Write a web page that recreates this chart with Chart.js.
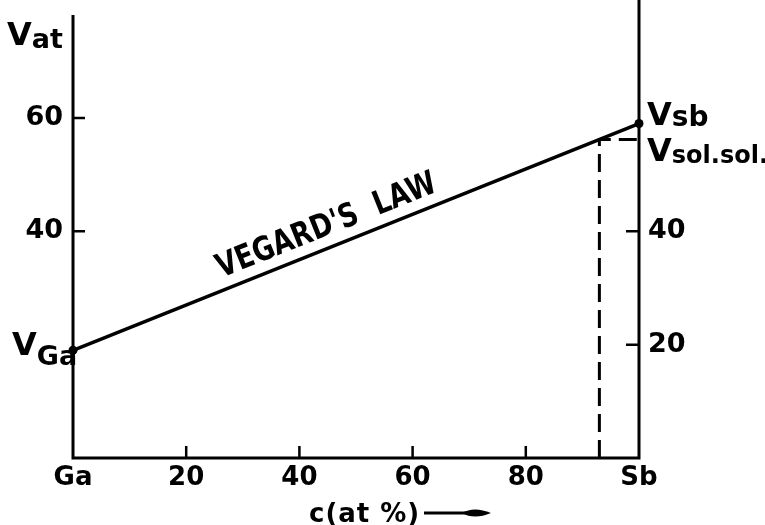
<!DOCTYPE html>
<html>
<head>
<meta charset="utf-8">
<script src="https://cdn.jsdelivr.net/npm/chart.js@4.4.1/dist/chart.umd.min.js"></script>
<style>
  html, body { margin: 0; padding: 0; background: #fff; }
  canvas { display: block; }
</style>
</head>
<body>
<canvas id="vegard" width="765" height="525"></canvas>
<script>
// composition in at % Sb (0 = Ga, 100 = Sb)
const compPct = [0, 100];
// atomic volume along Vegard's law
const vatLine = [19, 59];
// solid solution reading
const solComp = [93];
const solVat = [56.2];

// tick labels
const xTicks = [0, 20, 40, 60, 80, 100];
const xTickText = ["Ga", "20", "40", "60", "80", "Sb"];
const leftTicks = [40, 60];
const rightTicks = [20, 40];

const FONT = '"DejaVu Sans", sans-serif';

function subLabel(ctx, x, y, main, sub, mainSize, subSize, subDrop) {
    ctx.font = "bold " + mainSize + "px " + FONT;
    ctx.fillText(main, x, y);
    let w = ctx.measureText(main).width;
    ctx.font = "bold " + subSize + "px " + FONT;
    ctx.fillText(sub, x + w, y + subDrop);
}

const drawExtras = {
    id: "drawExtras",
    beforeDatasetsDraw(chart) {
        const ctx = chart.ctx;
        const x = chart.scales.x, y = chart.scales.y;
        const x0 = x.getPixelForValue(0), x1 = x.getPixelForValue(100);
        const yb = y.getPixelForValue(0);
        ctx.save();
        ctx.strokeStyle = "#000";
        ctx.lineWidth = 3;
        // axes frame
        ctx.beginPath();
        ctx.moveTo(x0, 15);
        ctx.lineTo(x0, yb);
        ctx.lineTo(x1, yb);
        ctx.lineTo(x1, 0);
        ctx.stroke();
        // inward ticks
        ctx.lineWidth = 2.5;
        ctx.beginPath();
        leftTicks.forEach((v) => {
            let p = y.getPixelForValue(v);
            ctx.moveTo(x0, p); ctx.lineTo(x0 + 12, p);
        });
        rightTicks.forEach((v) => {
            let p = y.getPixelForValue(v);
            ctx.moveTo(x1, p); ctx.lineTo(x1 - 13, p);
        });
        xTicks.slice(1, -1).forEach((v) => {
            let p = x.getPixelForValue(v);
            ctx.moveTo(p, yb); ctx.lineTo(p, yb - 12);
        });
        ctx.stroke();
        ctx.restore();
    },
    afterDatasetsDraw(chart) {
        const ctx = chart.ctx;
        const x = chart.scales.x, y = chart.scales.y;
        ctx.save();
        ctx.fillStyle = "#000";
        ctx.textBaseline = "alphabetic";
        ctx.textAlign = "left";

        // axis title
        subLabel(ctx, 7, 45, "V", "at", 32, 27, 3);

        // end point labels
        let pGaY = y.getPixelForValue(vatLine[0]);
        subLabel(ctx, 12, pGaY + 5, "V", "Ga", 32, 27, 10);
        let pSbY = y.getPixelForValue(vatLine[1]);
        let xr = x.getPixelForValue(100) + 8;
        subLabel(ctx, xr, pSbY + 1, "V", "sb", 32, 28, 1);
        let pSolY = y.getPixelForValue(solVat[0]);
        subLabel(ctx, xr, pSolY + 22, "V", "sol.sol.", 32, 24, 2);

        // rotated VEGARD'S LAW along the line
        let ax = x.getPixelForValue(compPct[0]), ay = y.getPixelForValue(vatLine[0]);
        let bx = x.getPixelForValue(compPct[1]), by = y.getPixelForValue(vatLine[1]);
        let ang = Math.atan2(by - ay, bx - ax);
        let t = 0.27;
        let sx = ax + (bx - ax) * t, sy = ay + (by - ay) * t;
        ctx.translate(sx, sy);
        ctx.rotate(ang);
        ctx.font = "bold 33px " + FONT;
        ctx.fillText("VEGARD'S  LAW", 0, -12, 234);
        ctx.setTransform(1, 0, 0, 1, 0, 0);

        // x axis title with arrow
        ctx.font = "bold 26px " + FONT;
        ctx.letterSpacing = "1px";
        ctx.fillText("c(at %)", 309, 522);
        ctx.letterSpacing = "0px";
        ctx.strokeStyle = "#000";
        ctx.lineWidth = 3;
        ctx.beginPath();
        ctx.moveTo(424, 513);
        ctx.lineTo(470, 513);
        ctx.stroke();
        ctx.beginPath();
        ctx.moveTo(462, 513);
        ctx.quadraticCurveTo(474, 506, 491, 513);
        ctx.quadraticCurveTo(474, 520, 462, 513);
        ctx.fill();
        ctx.restore();
    }
};

function noPad(scale) {
    scale.paddingTop = 0;
    scale.paddingBottom = 0;
    scale.paddingLeft = 0;
    scale.paddingRight = 0;
}

const tickFont = { family: FONT, size: 26, weight: "bold" };

new Chart(document.getElementById("vegard"), {
    type: "scatter",
    data: {
        datasets: [
            {
                label: "Vegard's law",
                data: compPct.map((c, i) => ({ x: c, y: vatLine[i] })),
                showLine: true,
                borderColor: "#000",
                borderWidth: 3.5,
                pointRadius: 4.5,
                pointBackgroundColor: "#000",
                pointBorderWidth: 0,
                clip: false,
            },
            {
                label: "solid solution",
                data: [
                    { x: solComp[0], y: 0 },
                    { x: solComp[0], y: solVat[0] },
                    { x: 100, y: solVat[0] },
                ],
                showLine: true,
                borderColor: "#000",
                borderWidth: 3,
                borderDash: [18, 8],
                pointRadius: 0,
                clip: false,
            },
        ],
    },
    options: {
        responsive: false,
        animation: false,
        devicePixelRatio: 1,
        layout: { padding: { top: 2, left: 0, right: 0, bottom: 0 } },
        plugins: {
            legend: { display: false },
            tooltip: { enabled: false },
        },
        scales: {
            x: {
                type: "linear",
                position: "bottom",
                min: 0,
                max: 100,
                grid: { display: false, drawTicks: false },
                border: { display: false },
                afterBuildTicks: (scale) => { scale.ticks = xTicks.map((v) => ({ value: v })); },
                afterFit: (scale) => { scale.height = 67; noPad(scale); },
                ticks: {
                    autoSkip: false,
                    maxRotation: 0,
                    padding: 5,
                    color: "#000",
                    font: tickFont,
                    callback: (v) => xTickText[xTicks.indexOf(v)],
                },
            },
            y: {
                type: "linear",
                position: "left",
                min: 0,
                max: 80,
                grid: { display: false, drawTicks: false },
                border: { display: false },
                afterBuildTicks: (scale) => { scale.ticks = leftTicks.map((v) => ({ value: v })); },
                afterFit: (scale) => { scale.width = 73; noPad(scale); },
                ticks: { padding: 10, color: "#000", font: { family: FONT, size: 27, weight: "bold" } },
            },
            y2: {
                type: "linear",
                position: "right",
                min: 0,
                max: 80,
                grid: { display: false, drawTicks: false },
                border: { display: false },
                afterBuildTicks: (scale) => { scale.ticks = rightTicks.map((v) => ({ value: v })); },
                afterFit: (scale) => { scale.width = 126; noPad(scale); },
                ticks: { padding: 9, color: "#000", font: { family: FONT, size: 27, weight: "bold" } },
            },
        },
    },
    plugins: [drawExtras],
});
</script>
</body>
</html>
